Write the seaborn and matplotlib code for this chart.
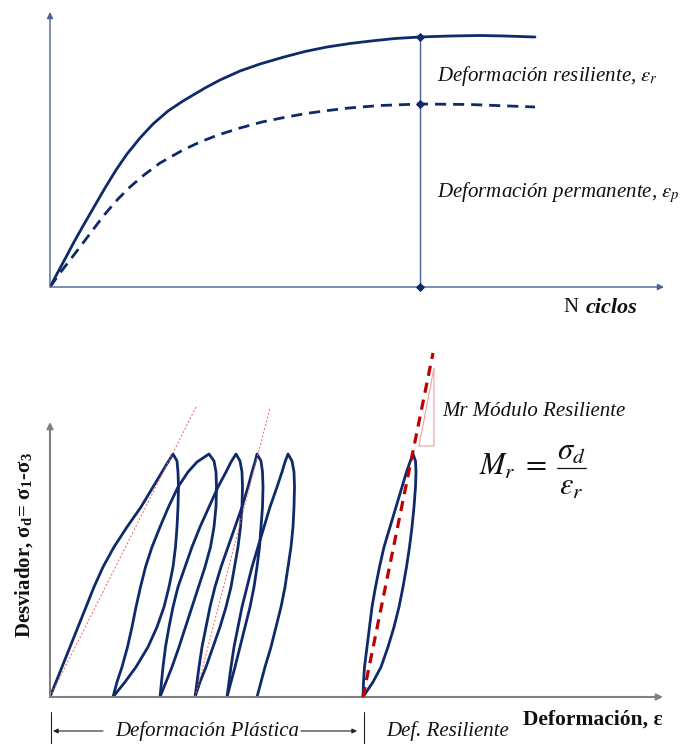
import matplotlib
matplotlib.use("Agg")
import matplotlib.pyplot as plt
import pandas as pd
import seaborn as sns

# ---------------- data (arbitrary units) ----------------
# top panel: strain vs number of cycles
n_total = [0, 8, 15, 24, 33, 44, 55, 66, 77, 90, 103, 118, 133, 155, 170, 190,
           210, 234, 255, 277, 300, 321, 345, 370, 400, 430, 455, 485]
eps_total = [0, 15, 28, 45, 61, 80, 99, 117, 133, 149, 163, 176, 186, 199, 207,
             216, 223, 230, 235.5, 240, 243.5, 246, 248.5, 250, 251, 251.5, 251, 250]
n_perm = [0, 10, 20, 30, 42, 55, 68, 80, 94, 110, 133, 150, 168, 190, 212, 234,
          256, 278, 299, 330, 370, 420, 485]
eps_perm = [0, 14, 27, 40, 56, 73, 88, 100, 112, 124, 137, 145, 152, 159, 165,
            169.5, 173.5, 176.5, 179, 181.5, 183, 182.5, 180]
n_ref = 370
ref_levels = [250, 183, 0]

# bottom panel: deviator stress levels and strain at each level
sigma_up = [0, 15, 30, 50, 70, 90, 110, 130, 150, 170, 190, 210, 225, 235, 243]
sigma_down = [243, 236, 225, 210, 190, 170, 150, 130, 110, 90, 70, 50, 30, 15, 0]
loop1_load = [0, 6, 12, 20, 28, 36, 44, 53, 64, 77, 91, 103, 112, 118, 123]
loop1_unload = [123, 127, 128, 128.5, 128, 127, 125.5, 123, 119, 114, 107, 98, 86, 75, 63]
loop2_load = [63, 67, 72, 77.5, 82, 86, 90.5, 95.5, 102, 110, 118.5, 128, 138, 147, 159]
loop2_unload = [159, 164, 166, 166.5, 166, 164, 160.5, 155, 148.5, 142, 135.5, 129, 122, 116, 110]
loop3_load = [110, 111.5, 113, 115.5, 119, 123, 128, 135, 142, 150, 159, 168, 176, 181, 186]
loop3_unload = [186, 190, 192, 192.5, 192, 190.5, 188, 184.5, 181, 176, 170, 163, 156, 150, 145]
loop4_load = [145, 147, 149, 152, 156, 160, 165, 171, 178, 185, 192, 198, 202, 205, 207]
loop4_unload = [207, 211, 212.5, 213, 212.5, 211, 209.5, 207, 204, 200, 195, 190, 185, 181, 177]
loop5_load = [177, 179, 181, 184, 188, 192, 197, 202, 208, 214, 220, 227, 232, 235, 238]
loop5_unload = [238, 242, 244, 244.5, 244, 243, 241, 238, 235, 231, 226, 221, 215, 211, 207]
res_load = [313, 313.5, 314.5, 317, 319.5, 322, 325.5, 329.5, 334, 340, 346, 352, 356.5, 360, 363]
res_unload = [363, 365.5, 366, 365.5, 364, 362, 359.5, 356.5, 353, 349, 344, 338, 331, 323, 313]

secant1_x, secant1_y = [0, 146], [0, 290]
secant2_x, secant2_y = [145, 220], [0, 289]
mr_x, mr_y = [313, 383], [0, 344]
tri_x = [369, 384, 384, 369]
tri_y = [251, 251, 329, 251]

# ---------------- style ----------------
sns.set_theme(style="white")
plt.rcParams["font.family"] = ["Liberation Serif", "DejaVu Serif"]
plt.rcParams["mathtext.fontset"] = "stix"

NAVY = "#0f2a6a"
AXBLUE = "#4a6096"
GRAY = "#808080"
TXT = "#111111"

fig = plt.figure(figsize=(6.81, 7.44), dpi=100)
W, H = 681, 744

ax1 = fig.add_axes([50 / W, (H - 287) / H, 614 / W, 275 / H])
ax2 = fig.add_axes([50 / W, (H - 697) / H, 613 / W, 275 / H])
ax1.set_xlim(0, 614)
ax1.set_ylim(0, 275)
ax2.set_xlim(0, 613)
ax2.set_ylim(0, 275)
for ax in (ax1, ax2):
    ax.set_axis_off()


def axis_arrows(ax, color, lw):
    kw = dict(arrowstyle="-|>", color=color, lw=lw, mutation_scale=9,
              shrinkA=0, shrinkB=0)
    ax.annotate("", xy=(1, 0), xytext=(0, 0), xycoords="axes fraction",
                arrowprops=kw, annotation_clip=False)
    ax.annotate("", xy=(0, 1), xytext=(0, 0), xycoords="axes fraction",
                arrowprops=kw, annotation_clip=False)


# ---------------- top panel ----------------
axis_arrows(ax1, AXBLUE, 1.0)
top = pd.DataFrame({"N": n_total, "eps": eps_total})
sns.lineplot(data=top, x="N", y="eps", ax=ax1, color=NAVY, lw=2.0,
             sort=False, estimator=None, legend=False)
ax1.plot(n_perm, eps_perm, color=NAVY, lw=2.0, ls=(0, (4, 2.5)))
ax1.plot([n_ref, n_ref], [0, ref_levels[0]], color=AXBLUE, lw=1.0)
ax1.scatter([n_ref] * 3, ref_levels, s=14, color=NAVY, zorder=5,
            clip_on=False, marker="D")
ax1.text(387, 211, r"Deformación resiliente, $\varepsilon_r$", style="italic",
         fontsize=15, va="center", ha="left", color=TXT)
ax1.text(387, 94, r"Deformación permanente, $\varepsilon_p$", style="italic",
         fontsize=15, va="center", ha="left", color=TXT)
ax1.text(528, -21, "N", fontsize=15, va="center", ha="right", color=TXT,
         clip_on=False)
ax1.text(587, -21, "ciclos", fontsize=16, va="center", ha="right",
         style="italic", weight="bold", color=TXT, clip_on=False)

# ---------------- bottom panel ----------------
axis_arrows(ax2, GRAY, 1.5)
rows = []
for name, up, down in (("l1", loop1_load, loop1_unload),
                       ("l2", loop2_load, loop2_unload),
                       ("l3", loop3_load, loop3_unload),
                       ("l4", loop4_load, loop4_unload),
                       ("l5", loop5_load, loop5_unload),
                       ("res", res_load, res_unload)):
    xs = list(up) + list(down[1:])
    ys = list(sigma_up) + list(sigma_down[1:])
    for xv, yv in zip(xs, ys):
        rows.append({"curve": name, "eps": xv, "sigma": yv})
loops = pd.DataFrame(rows)
sns.lineplot(data=loops, x="eps", y="sigma", units="curve", estimator=None,
             sort=False, ax=ax2, color=NAVY, lw=2.0, legend=False,
             solid_joinstyle="round", solid_capstyle="round")

ax2.plot(secant1_x, secant1_y, color="#f06060", lw=0.7, ls=(0, (2, 2)),
         clip_on=False)
ax2.plot(secant2_x, secant2_y, color="#f06060", lw=0.7, ls=(0, (2, 2)),
         clip_on=False)
ax2.plot(mr_x, mr_y, color="#c00000", lw=2.3, ls=(0, (3.2, 2.2)),
         clip_on=False, zorder=6)
ax2.plot(tri_x, tri_y, color="#f0a0a0", lw=0.8, clip_on=False)

ax2.text(392, 285, "Mr Módulo Resiliente", style="italic", fontsize=15,
         va="center", ha="left", color=TXT, clip_on=False)
# M_r = sigma_d / eps_r
ax2.text(497, 230, r"$M_r\;=$", fontsize=22, va="center", ha="right", color=TXT)
ax2.text(521, 245, r"$\sigma_d$", fontsize=22, va="center", ha="center", color=TXT)
ax2.plot([507, 536], [229, 229], color=TXT, lw=0.9)
ax2.text(521, 210, r"$\varepsilon_r$", fontsize=22, va="center", ha="center", color=TXT)

ax2.text(-26, 152, r"Desviador, σ$_\mathregular{d}$= σ$_\mathregular{1}$-σ$_\mathregular{3}$",
         rotation=90, weight="bold", fontsize=15, va="center", ha="center",
         color=TXT, clip_on=False)
ax2.text(613, -23, "Deformación, ε", weight="bold", fontsize=15.5, va="center",
         ha="right", color=TXT, clip_on=False)

# bottom annotation strip
for xs in (1, 314):
    ax2.plot([xs, xs], [-15, -47], color="#222222", lw=0.8, clip_on=False)
ak = dict(arrowstyle="-|>", color="#222222", lw=0.8, mutation_scale=7,
          shrinkA=0, shrinkB=0)
ax2.annotate("", xy=(3, -34), xytext=(53, -34), arrowprops=ak,
             annotation_clip=False)
ax2.annotate("", xy=(307, -34), xytext=(251, -34), arrowprops=ak,
             annotation_clip=False)
ax2.text(157, -34, "Deformación Plástica", style="italic", fontsize=15,
         va="center", ha="center", color=TXT, clip_on=False)
ax2.text(398, -34, "Def. Resiliente", style="italic", fontsize=15,
         va="center", ha="center", color=TXT, clip_on=False)

fig.savefig("out.png", dpi=100)
